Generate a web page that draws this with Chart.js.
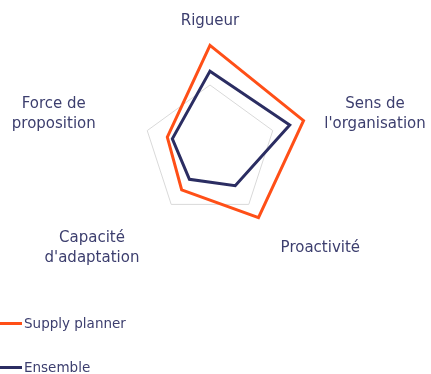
<!DOCTYPE html>
<html>
<head>
<meta charset="utf-8">
<script src="https://cdn.jsdelivr.net/npm/chart.js@4/dist/chart.umd.min.js"></script>
<style>
  body { margin: 0; background: #fff; }
  #wrap { position: relative; width: 431px; height: 374px; }
  #legend { position: absolute; left: 0; top: 312px; font: 13.5px "DejaVu Sans", sans-serif; color: #3c3e6e; }
  #legend .item { display: flex; align-items: center; height: 22px; margin-bottom: 22px; }
  #legend .line { width: 22px; height: 3px; margin-right: 2px; }
</style>
</head>
<body>
<div id="wrap">
  <canvas id="radar"></canvas>
  <div id="legend"></div>
</div>
<script>
const categories = ['Rigueur', ['Sens de', "l'organisation"], 'Proactivité', ['Capacité', "d'adaptation"], ['Force de', 'proposition']]
const supplyPlanner = [80, 74.5, 62.5, 36.5, 34]
const ensemble = [60.5, 63.5, 32.5, 26.5, 30]
const referenceLevel = 50

const orange = '#ff4f17'
const navy = '#2b2d62'
const textColor = '#3c3e6e'
const fontFamily = '"DejaVu Sans", sans-serif'

// point labels: lines centred inside the block, block left/right of the axis end
const centredLabels = {
  id: 'centredLabels',
  afterDraw(chart) {
    const scale = chart.scales.r
    const ctx = chart.ctx
    const lineHeight = 20
    const dist = scale.drawingArea * 0.91
    ctx.save()
    ctx.font = '15px ' + fontFamily
    ctx.fillStyle = textColor
    ctx.textAlign = 'center'
    ctx.textBaseline = 'middle'
    chart.data.labels.forEach((label, i) => {
      const lines = Array.isArray(label) ? label : [label]
      const w = Math.max(...lines.map(l => ctx.measureText(l).width))
      const h = lines.length * lineHeight
      const p = scale.getPointPosition(i, dist)
      const dx = p.x - scale.xCenter
      const dy = p.y - scale.yCenter
      let cx = p.x
      let cy = p.y
      if (Math.abs(dx) < 1) {
        cy = dy < 0 ? p.y - h / 2 : p.y + h / 2
      } else {
        cx = dx > 0 ? p.x + w / 2 : p.x - w / 2
      }
      lines.forEach((line, k) => {
        ctx.fillText(line, cx, cy - h / 2 + lineHeight * (k + 0.5))
      })
    })
    ctx.restore()
  }
}

const radarChart = new Chart(document.getElementById('radar'), {
  type: 'radar',
  data: {
    labels: categories,
    datasets: [
      {
        label: 'Supply planner',
        data: supplyPlanner,
        borderColor: orange,
        borderWidth: 3,
        borderJoinStyle: 'miter',
        pointRadius: 0,
        fill: false
      },
      {
        label: 'Ensemble',
        data: ensemble,
        borderColor: navy,
        borderWidth: 3,
        borderJoinStyle: 'miter',
        pointRadius: 0,
        fill: false
      }
    ]
  },
  options: {
    responsive: true,
    maintainAspectRatio: false,
    animation: false,
    layout: {
      padding: { left: 78, right: 89, top: 19, bottom: 91 }
    },
    scales: {
      r: {
        min: 0,
        max: 100,
        ticks: { display: false, stepSize: 50 },
        angleLines: { display: false },
        grid: {
          color: ctx => ctx.tick.value === referenceLevel ? '#d9d9d9' : 'transparent',
          lineWidth: 1
        },
        pointLabels: { display: false }
      }
    },
    plugins: {
      legend: { display: false },
      tooltip: { enabled: false }
    }
  },
  plugins: [centredLabels]
})

const legendEl = document.getElementById('legend')
radarChart.data.datasets.forEach(ds => {
  const item = document.createElement('div')
  item.className = 'item'
  item.innerHTML = `<span class="line" style="background:${ds.borderColor}"></span><span>${ds.label}</span>`
  legendEl.appendChild(item)
})
</script>
</body>
</html>
